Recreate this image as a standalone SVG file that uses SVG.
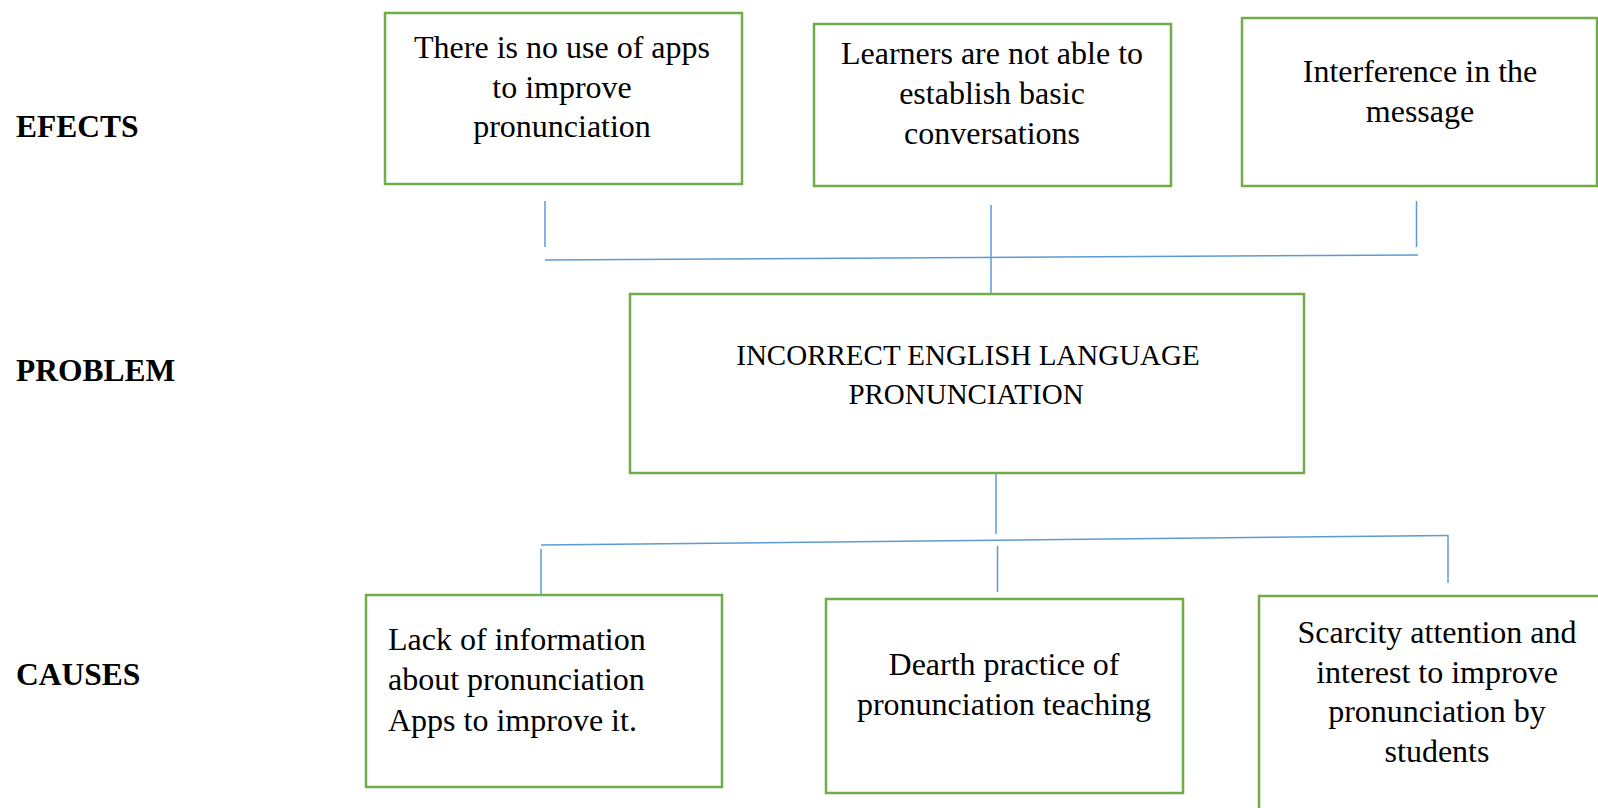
<svg xmlns="http://www.w3.org/2000/svg" width="1598" height="808" viewBox="0 0 1598 808">
<style>
.box{fill:#fff;stroke:#70AD47;stroke-width:2.5}
.t{font-family:"Liberation Serif","Times New Roman",serif;font-size:32px;fill:#000}
.c{text-anchor:middle}
.lbl{font-family:"Liberation Serif","Times New Roman",serif;font-size:31.5px;font-weight:bold;fill:#000}
.ln{stroke:#5B9BD5;stroke-width:1.5;fill:none}
</style>
<rect width="1598" height="808" fill="#fff"/>
<g id="labels">
<text class="lbl" x="16" y="137">EFECTS</text>
<text class="lbl" x="16" y="381">PROBLEM</text>
<text class="lbl" x="16" y="685">CAUSES</text>
</g>
<g id="connectors">
<line class="ln" x1="545" y1="201" x2="545" y2="247"/>
<line class="ln" x1="991" y1="205" x2="991" y2="297"/>
<line class="ln" x1="1416.5" y1="201" x2="1416.5" y2="247"/>
<line class="ln" x1="545" y1="260" x2="1418" y2="255"/>
<line class="ln" x1="996" y1="474" x2="996" y2="534"/>
<line class="ln" x1="541" y1="545" x2="1448" y2="535.5"/>
<line class="ln" x1="541" y1="549" x2="541" y2="595"/>
<line class="ln" x1="997.5" y1="546" x2="997.5" y2="592"/>
<line class="ln" x1="1448" y1="535" x2="1448" y2="583"/>
</g>
<g id="effect1">
<rect class="box" x="385" y="13" width="357" height="171"/>
<text class="t c" x="562" y="58">There is no use of apps</text>
<text class="t c" x="562" y="97.5">to improve</text>
<text class="t c" x="562" y="137">pronunciation</text>
</g>
<g id="effect2">
<rect class="box" x="814" y="24" width="357" height="162"/>
<text class="t c" x="992" y="64">Learners are not able to</text>
<text class="t c" x="992" y="104">establish basic</text>
<text class="t c" x="992" y="143.5">conversations</text>
</g>
<g id="effect3">
<rect class="box" x="1242" y="18" width="355" height="168"/>
<text class="t c" x="1420" y="81.5">Interference in the</text>
<text class="t c" x="1420" y="122">message</text>
</g>
<g id="problem">
<rect class="box" x="630" y="294" width="674" height="179"/>
<text class="t c" x="968" y="365" style="font-size:29px">INCORRECT ENGLISH LANGUAGE</text>
<text class="t c" x="966" y="403.5" style="font-size:29px">PRONUNCIATION</text>
</g>
<g id="cause1">
<rect class="box" x="366" y="595" width="356" height="192"/>
<text class="t" x="388" y="650">Lack of information</text>
<text class="t" x="388" y="690">about pronunciation</text>
<text class="t" x="388" y="731">Apps to improve it.</text>
</g>
<g id="cause2">
<rect class="box" x="826" y="599" width="357" height="194"/>
<text class="t c" x="1004" y="675">Dearth practice of</text>
<text class="t c" x="1004" y="715">pronunciation teaching</text>
</g>
<g id="cause3">
<rect class="box" x="1259" y="596" width="400" height="300"/>
<text class="t c" x="1437" y="643">Scarcity attention and</text>
<text class="t c" x="1437" y="683">interest to improve</text>
<text class="t c" x="1437" y="722">pronunciation by</text>
<text class="t c" x="1437" y="762">students</text>
</g>
</svg>
